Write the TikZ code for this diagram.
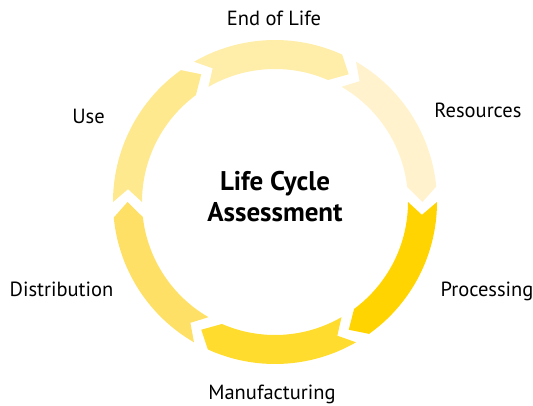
\documentclass[tikz,border=0pt]{standalone}
\usepackage{fontspec}
\setmainfont{PT Sans}
\definecolor{EolYellow}{HTML}{FFEDAA}
\definecolor{ResYellow}{HTML}{FFF2CC}
\definecolor{ProYellow}{HTML}{FFD400}
\definecolor{ManYellow}{HTML}{FFDC2E}
\definecolor{DisYellow}{HTML}{FFE066}
\definecolor{UseYellow}{HTML}{FFE98E}
\def\Ro{162pt}
\def\Rm{147.5pt}
\def\Ri{133pt}

\begin{document}
\begin{tikzpicture}[x=1pt,y=1pt,
    stage/.style={font=\fontsize{20.5}{20.5}\selectfont, anchor=base},
    heading/.style={font=\bfseries\fontsize{27}{27}\selectfont, anchor=base}]
    \useasboundingbox (-275,-203) rectangle (258,202);
    \foreach \s/\c in {120/EolYellow,60/ResYellow,0/ProYellow,-60/ManYellow,-120/DisYellow,-180/UseYellow} {
        \pgfmathsetmacro{\e}{\s-60}
        \fill[\c] (\s:\Ro) arc[start angle=\s, end angle=\e+5.5, radius=\Ro] -- (\e:\Rm)
            -- ({\e+6.5}:\Ri) arc[start angle=\e+6.5, end angle=\s, radius=\Ri] -- ({\s-5}:\Rm) -- cycle;
    }
    \node[stage] (eol) at (-1,177) {End of Life};
    \node[stage] (res) at (203,85) {Resources};
    \node[stage] (pro) at (212,-94) {Processing};
    \node[stage] (man) at (-3,-197) {Manufacturing};
    \node[stage] (dis) at (-213.5,-94) {Distribution};
    \node[stage] (use) at (-186.5,79) {Use};
    \node[heading] (lc) at (0,12) {Life Cycle};
    \node[heading] (as) at (0,-19) {Assessment};
\end{tikzpicture}
\end{document}
